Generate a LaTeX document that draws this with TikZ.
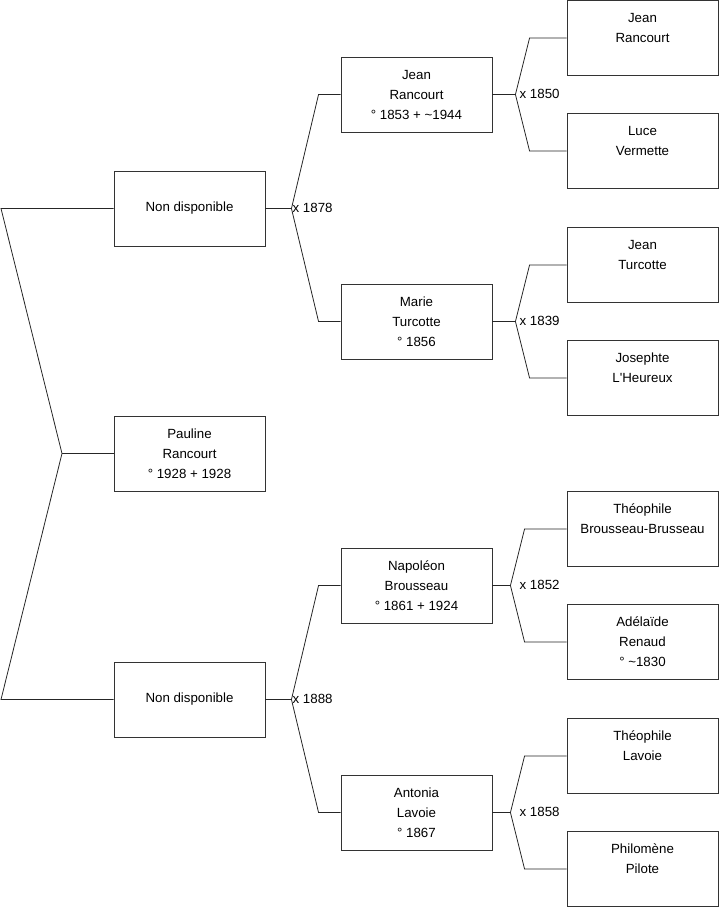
\documentclass[tikz,border=0pt]{standalone}
\usepackage{fontspec}
\newfontfamily\boxfont{Liberation Sans}

\tikzset{
  personbox/.style={draw=black!80, line width=0.9pt, minimum width=151pt, minimum height=75pt,
    inner sep=0pt, align=center, font=\boxfont\fontsize{13.3}{20}\selectfont},
  wedlock/.style={anchor=west, inner sep=0pt, font=\boxfont\fontsize{13.3}{15}\selectfont},
  branch/.style={draw=black!85, line width=0.8pt},
}

\begin{document}
\begin{tikzpicture}[x=1pt,y=-1pt]

   \useasboundingbox (0,0) rectangle (719,908);

   % generation 1
   \node[personbox] (gen1a) at (189.5,208.5) {Non disponible};
   \node[personbox] (root)  at (189.5,453.5) {Pauline\\Rancourt\\° 1928 + 1928};
   \node[personbox] (gen1b) at (189.5,699.5) {Non disponible};

   % generation 2
   \node[personbox] (p1) at (416.5,94.5)  {Jean\\Rancourt\\° 1853 + \textasciitilde1944};
   \node[personbox] (p2) at (416.5,321.5) {Marie\\Turcotte\\° 1856};
   \node[personbox] (p3) at (416.5,585.5) {Napoléon\\Brousseau\\° 1861 + 1924};
   \node[personbox] (p4) at (416.5,812.5) {Antonia\\Lavoie\\° 1867};

   % generation 3
   \node[personbox] (a1) at (642.5,38)  {Jean\\Rancourt\\\mbox{}};
   \node[personbox] (a2) at (642.5,151) {Luce\\Vermette\\\mbox{}};
   \node[personbox] (a3) at (642.5,265) {Jean\\Turcotte\\\mbox{}};
   \node[personbox] (a4) at (642.5,378) {Josephte\\L'Heureux\\\mbox{}};
   \node[personbox] (a5) at (642.5,529) {Théophile\\Brousseau-Brusseau\\\mbox{}};
   \node[personbox] (a6) at (642.5,642) {Adélaïde\\Renaud\\° \textasciitilde1830};
   \node[personbox] (a7) at (642.5,756) {Théophile\\Lavoie\\\mbox{}};
   \node[personbox] (a8) at (642.5,869) {Philomène\\Pilote\\\mbox{}};

   % left fork
   \coordinate (lt) at (1,208.5);
   \coordinate (lf) at (62,453.5);
   \coordinate (lb) at (1,699.5);
   \draw[branch] (gen1a.west) -- (lt) -- (lf) -- (lb) -- (gen1b.west);
   \draw[branch] (lf) -- (root.west);

   % marriages
   \foreach \c/\u/\l/\yr/\out/\in in {gen1a/p1/p2/1878/26/22, gen1b/p3/p4/1888/26/22,
        p1/a1/a2/1850/23/37, p2/a3/a4/1839/23/37, p3/a5/a6/1852/18/42, p4/a7/a8/1858/18/42}
   {
     \draw[branch] (\c.east) -- ++(\out,0) coordinate (fk\yr);
     \draw[branch] (\u.west) -- ++(-\in,0) -- (fk\yr) -- ([xshift=-\in pt]\l.west) -- (\l.west);
     \node[wedlock] (w\yr) at ([xshift=27pt,yshift=1pt]\c.east) {x \yr};
   }

\end{tikzpicture}
\end{document}
